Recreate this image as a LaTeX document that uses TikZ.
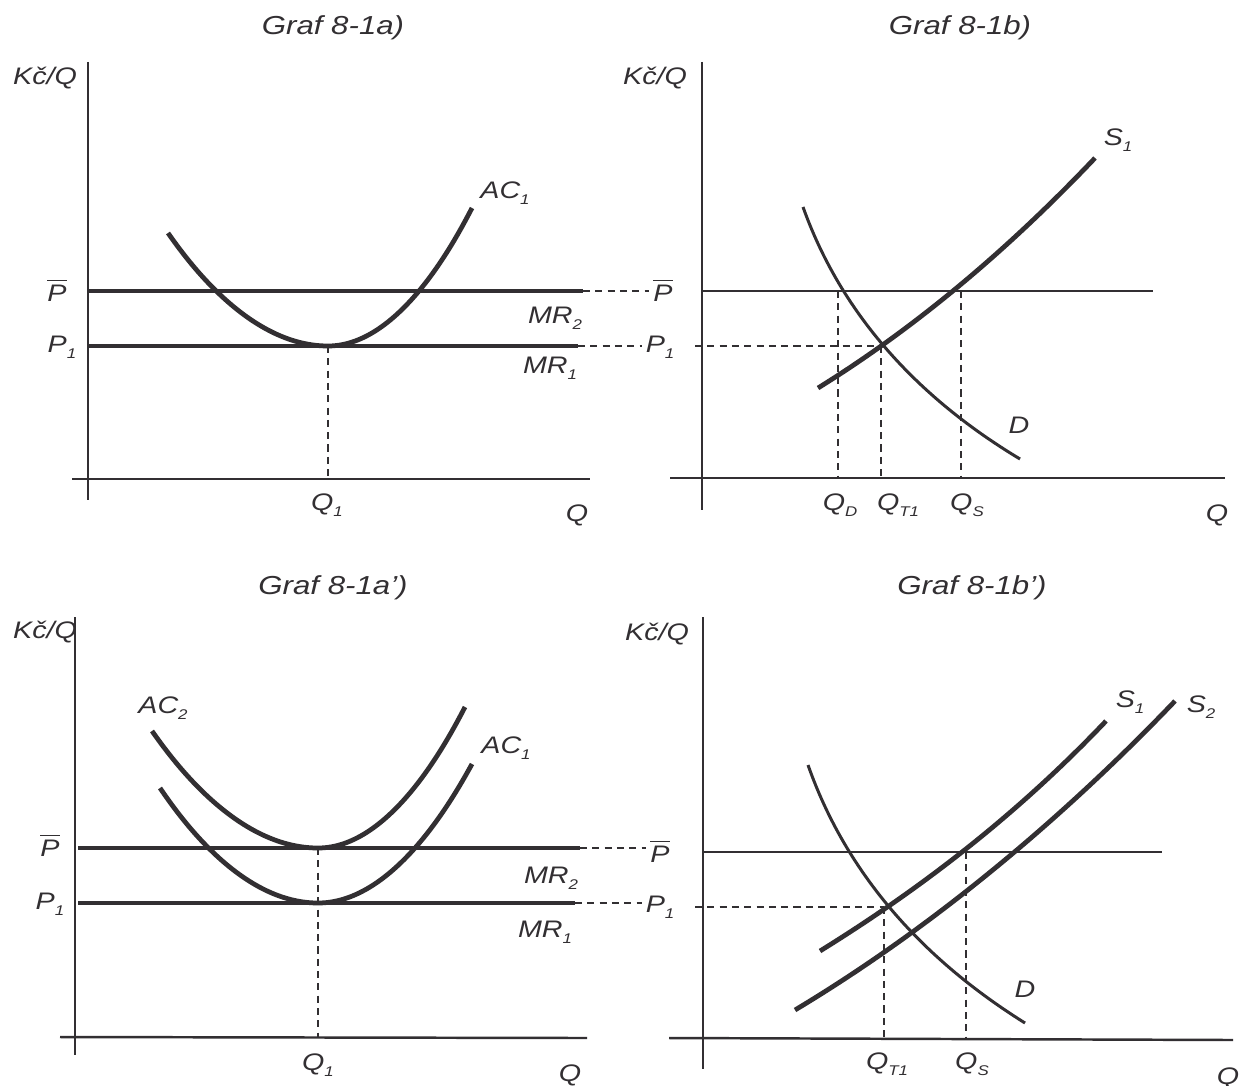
\documentclass[tikz,border=0pt]{standalone}
\usepackage{fontspec}
\setmainfont{Liberation Sans}[FakeStretch=1.2]
\usepackage{tikz}
\usetikzlibrary{positioning}
\definecolor{inkcolor}{RGB}{50,47,50}
\newcommand{\Pbar}{$\overline{\hbox{\itshape P}}$}
\newcommand{\lowidx}[2]{#1\raisebox{-0.45ex}{\fontsize{4}{4}\selectfont #2}}

\begin{document}
\begin{tikzpicture}[
    x=0.01cm,y=-0.01cm,
    every node/.style={font=\fontsize{6.8}{8}\selectfont\itshape,text=inkcolor,inner sep=1pt},
    title/.style={font=\fontsize{7.4}{9}\selectfont\itshape},
    axis/.style={draw=inkcolor,line width=0.7pt},
    price/.style={draw=inkcolor,line width=1.05pt},
    thinprice/.style={draw=inkcolor,line width=0.7pt},
    cost/.style={draw=inkcolor,line width=1.35pt},
    demand/.style={draw=inkcolor,line width=0.85pt},
    guide/.style={draw=inkcolor,line width=0.45pt,dash pattern=on 2pt off 1.5pt}
]
\useasboundingbox[fill=white] (0,0) rectangle (1240,1085);

\node[title] (titleA) at (333,28) {Graf 8-1a)};
\node (kcA) at (45,78) {Kč/Q};
\draw[axis] (88,62) -- (88,500);
\draw[axis] (72,479) -- (590,479);
\coordinate (pbarA) at (583,291);
\coordinate (poneA) at (578,346);
\coordinate (minA) at (328,346);
\draw[price] (88,291) -- (pbarA);
\draw[price] (88,346) -- (poneA);
\draw[cost] (168,233) parabola bend (minA) (472,208);
\draw[guide] (minA) -- (328,479);
\node (pbarlabA) at (57,290) {\Pbar};
\node (ponelabA) at (62,347) {\lowidx{P}{1}};
\node (mrtwoA) at (555,318) {\lowidx{MR}{2}};
\node (mroneA) at (550,368) {\lowidx{MR}{1}};
\node (aconeA) at (505,193) {\lowidx{AC}{1}};
\node (qoneA) at (327,505) {\lowidx{Q}{1}};
\node (qA) at (577,515) {Q};

\node[title] (titleB) at (960,28) {Graf 8-1b)};
\node (kcB) at (655,78) {Kč/Q};
\draw[axis] (702,62) -- (702,510);
\draw[axis] (670,478) -- (1225,478);
\draw[thinprice] (702,291) -- (1153,291);
\node (pbarlabB) at (663,290) {\Pbar};
\node (ponelabB) at (660,347) {\lowidx{P}{1}};
\coordinate (eqB) at (881,346);
\coordinate (qdB) at (838,291);
\coordinate (qsB) at (961,291);
\draw[guide] (pbarA) -- (pbarA -| pbarlabB.west);
\draw[guide] (poneA) -- (poneA -| ponelabB.west);
\draw[guide] (695,346) -- (eqB);
\draw[cost] (818,388) .. controls (910,331) and (1003,255) .. (1095,158);
\draw[demand] (803,207) .. controls (848,333) and (940,411) .. (1020,459);
\draw[guide] (qdB) -- (838,478);
\draw[guide] (eqB) -- (881,478);
\draw[guide] (qsB) -- (961,478);
\node (soneB) at (1118,140) {\lowidx{S}{1}};
\node (dB) at (1019,425) {D};
\node (qdlabB) at (840,505) {\lowidx{Q}{D}};
\node (qtlabB) at (898,505) {\lowidx{Q}{T1}};
\node (qslabB) at (967,505) {\lowidx{Q}{S}};
\node (qB) at (1217,515) {Q};

\node[title] (titleC) at (333,588) {Graf 8-1a')};
\node (kcC) at (45,632) {Kč/Q};
\draw[axis] (75,617) -- (75,1055);
\draw[axis] (60,1037) -- (587,1038);
\coordinate (pbarC) at (580,848);
\coordinate (poneC) at (575,903);
\coordinate (mintwoC) at (318,848);
\coordinate (minoneC) at (318,903);
\draw[price] (78,848) -- (pbarC);
\draw[price] (78,903) -- (poneC);
\draw[cost] (152,731) parabola bend (mintwoC) (465,707);
\draw[cost] (160,788) parabola bend (minoneC) (472,764);
\draw[guide] (mintwoC) -- (318,1037);
\node (pbarlabC) at (50,845) {\Pbar};
\node (ponelabC) at (50,904) {\lowidx{P}{1}};
\node (mrtwoC) at (551,878) {\lowidx{MR}{2}};
\node (mroneC) at (545,932) {\lowidx{MR}{1}};
\node (actwoC) at (163,708) {\lowidx{AC}{2}};
\node (aconeC) at (506,748) {\lowidx{AC}{1}};
\node (qoneC) at (318,1065) {\lowidx{Q}{1}};
\node (qC) at (570,1075) {Q};

\node[title] (titleD) at (972,588) {Graf 8-1b')};
\node (kcD) at (657,634) {Kč/Q};
\draw[axis] (703,617) -- (703,1069);
\draw[axis] (669,1038) -- (1233,1040);
\draw[thinprice] (703,852) -- (1162,852);
\node (pbarlabD) at (660,851) {\Pbar};
\node (ponelabD) at (660,907) {\lowidx{P}{1}};
\coordinate (eqD) at (884,907);
\coordinate (qsD) at (966,852);
\draw[guide] (pbarC) -- (pbarC -| pbarlabD.west);
\draw[guide] (poneC) -- (poneC -| ponelabD.west);
\draw[guide] (695,907) -- (eqD);
\draw[demand] (808,765) .. controls (853,893) and (945,973) .. (1025,1023);
\draw[cost] (820,951) .. controls (912,894) and (1011,821) .. (1106,721);
\draw[cost] (795,1010) .. controls (935,926) and (1065,816) .. (1175,701);
\draw[guide] (eqD) -- (884,1039);
\draw[guide] (qsD) -- (966,1039);
\node (soneD) at (1130,702) {\lowidx{S}{1}};
\node (stwoD) at (1201,707) {\lowidx{S}{2}};
\node (dD) at (1025,989) {D};
\node (qtlabD) at (887,1064) {\lowidx{Q}{T1}};
\node (qslabD) at (972,1064) {\lowidx{Q}{S}};
\node (qD) at (1228,1078) {Q};
\end{tikzpicture}
\end{document}
